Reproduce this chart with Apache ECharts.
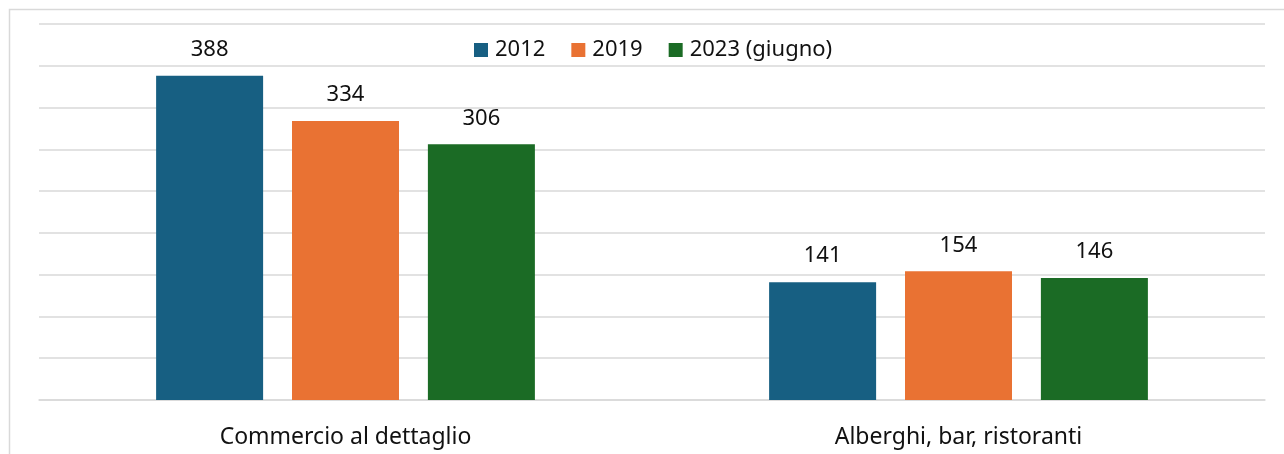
<!DOCTYPE html>
<html>
<head>
<meta charset="utf-8">
<script src="https://cdn.jsdelivr.net/npm/echarts@6/dist/echarts.min.js"></script>
<style>
  html, body { margin: 0; padding: 0; background: #fff; }
  #chart { width: 1284px; height: 454px; }
</style>
</head>
<body>
<div id="chart"></div>
<script>
// dati
var categorie = ['Commercio al dettaglio', 'Alberghi, bar, ristoranti'];
var anni = ['2012', '2019', '2023 (giugno)'];
var valori2012 = [388, 141];
var valori2019 = [334, 154];
var valori2023 = [306, 146];
var colori = ['#175f82', '#e97233', '#1b6b25'];

var chart = echarts.init(document.getElementById('chart'));

var fontFam = '"Noto Sans", "Open Sans", sans-serif';

function serie(nome, dati) {
    return {
        name: nome,
        type: 'bar',
        data: dati,
        barWidth: 107,
        barGap: '27%',
        label: {
            show: true,
            position: 'top',
            distance: 15,
            color: '#111',
            fontSize: 22,
            fontFamily: fontFam
        }
    };
}

var option = {
    animation: false,
    color: colori,
    textStyle: { fontFamily: fontFam },
    graphic: [{
        type: 'rect',
        shape: { x: 9.5, y: 9.5, width: 1300, height: 480 },
        style: { fill: 'none', stroke: '#d9d9d9', lineWidth: 1.5 },
        silent: true
    }],
    legend: {
        data: anni,
        left: 469,
        top: 34,
        itemWidth: 14,
        itemHeight: 14,
        itemGap: 26,
        icon: 'rect',
        textStyle: { fontSize: 22, color: '#111', padding: [0, 0, 0, 2] }
    },
    grid: { left: 39, right: 19, top: 24, bottom: 54 },
    xAxis: {
        type: 'category',
        data: categorie,
        axisTick: { show: false },
        axisLine: { lineStyle: { color: '#d9d9d9', width: 1.5 } },
        axisLabel: { color: '#111', fontSize: 23, margin: 26 }
    },
    yAxis: {
        type: 'value',
        min: 0,
        max: 450,
        interval: 50,
        axisLabel: { show: false },
        axisLine: { show: false },
        axisTick: { show: false },
        splitLine: { lineStyle: { color: '#d9d9d9', width: 1.5 } }
    },
    series: [
        serie(anni[0], valori2012),
        serie(anni[1], valori2019),
        serie(anni[2], valori2023)
    ]
};

chart.setOption(option);
</script>
</body>
</html>
